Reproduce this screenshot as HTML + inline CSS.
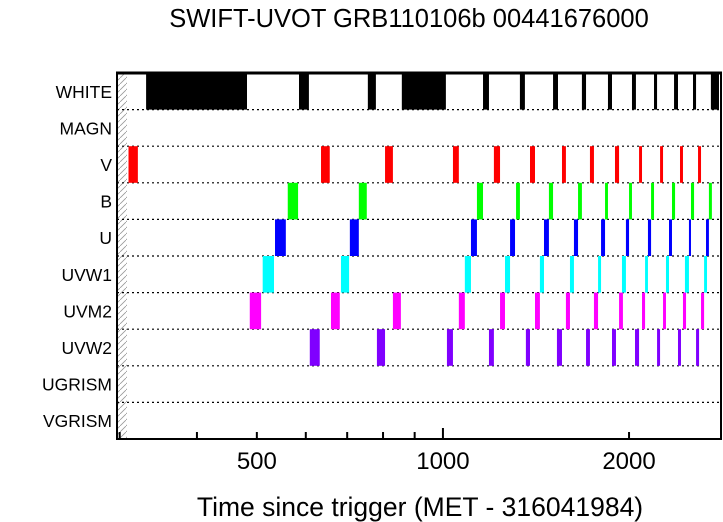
<!DOCTYPE html>
<html><head><meta charset="utf-8"><style>
html,body{margin:0;padding:0;background:#fff;width:723px;height:522px;overflow:hidden}
text{font-family:"Liberation Sans",sans-serif;fill:#000}
</style></head><body>
<svg id="chart" width="723" height="522" xmlns="http://www.w3.org/2000/svg">
<defs><pattern id="hatch" patternUnits="userSpaceOnUse" width="6" height="6"><path d="M0,6 L6,0" stroke="#999" stroke-width="0.8"/></pattern></defs>
<text x="409" y="27" font-size="25.5" text-anchor="middle">SWIFT-UVOT GRB110106b 00441676000</text>
<text x="420" y="516" font-size="26.5" text-anchor="middle">Time since trigger (MET - 316041984)</text>
<rect x="117" y="73" width="10" height="366" fill="url(#hatch)"/>
<g id="grid"></g><g id="bars"></g><g id="axes"></g>
</svg>
<script>
const filters=["WHITE","MAGN","V","B","U","UVW1","UVM2","UVW2","UGRISM","VGRISM"];
const colors=["#000","#000","#ff0000","#00ff00","#0000ff","#00ffff","#ff00ff","#8000ff","#000","#000"];
const whiteExp=[[331,482],[585,607],[756,779],[858,1011],[1161,1187],[1332,1357],[1507,1535],[1678,1704],[1849,1877],[2022,2052],[2195,2220],[2365,2400],[2538,2567],[2713,2796]];
const vExp=[[310,321],[635,656],[806,830],[1038,1061],[1209,1237],[1383,1409],[1558,1581],[1729,1755],[1898,1927],[2076,2099],[2245,2270],[2418,2445],[2586,2615]];
const bExp=[[561,583],[731,753],[1135,1161],[1313,1332],[1484,1507],[1654,1678],[1829,1849],[2000,2022],[2171,2195],[2347,2374],[2519,2548],[2693,2723]];
const uExp=[[535,557],[707,731],[1110,1135],[1284,1308],[1457,1484],[1629,1654],[1802,1829],[1977,2000],[2146,2171],[2321,2347],[2500,2519],[2664,2693]];
const uvw1Exp=[[511,533],[684,705],[1085,1110],[1260,1284],[1435,1457],[1605,1629],[1782,1802],[1948,1977],[2123,2146],[2295,2321],[2463,2500],[2645,2674]];
const uvm2Exp=[[487,508],[659,681],[830,855],[1061,1085],[1237,1260],[1409,1435],[1581,1605],[1755,1782],[1927,1955],[2099,2123],[2270,2295],[2445,2473],[2615,2645]];
const uvw2Exp=[[609,632],[782,806],[1015,1038],[1187,1209],[1362,1383],[1529,1558],[1704,1729],[1877,1905],[2045,2076],[2220,2245],[2400,2427],[2567,2596]];
const tickValues=[300,400,500,600,700,800,900,1000,2000];
const tickLabels=["500","1000","2000"];
const series=[whiteExp,[],vExp,bExp,uExp,uvw1Exp,uvm2Exp,uvw2Exp,[],[]];
const X0=117,X1=721,Y0=73,Y1=439,D0=297,D1=2817;
const NS="http://www.w3.org/2000/svg";
function xs(v){return X0+(Math.log(v)-Math.log(D0))/(Math.log(D1)-Math.log(D0))*(X1-X0);}
const rowH=(Y1-Y0)/filters.length;
function ys(i){return Y0+i*rowH;}
function mk(tag,attrs,parent){const e=document.createElementNS(NS,tag);for(const k in attrs)e.setAttribute(k,attrs[k]);parent.appendChild(e);return e;}
const grid=document.getElementById('grid'),bars=document.getElementById('bars'),axes=document.getElementById('axes');
filters.forEach((f,i)=>{
  if(i>0){const l=mk('line',{x1:X0,x2:X1,y1:ys(i),y2:ys(i),stroke:'#000','stroke-width':1.2,'stroke-dasharray':'2,3'},grid);
    
    }
  const t=mk('text',{x:112,y:ys(i)+rowH/2+6.5,'font-size':17.5,'text-anchor':'end'},axes);
  t.textContent=f;
  
  
  series[i].forEach(s=>{
    const a=xs(s[0]),b=xs(s[1]);
    const r=mk('rect',{x:a,y:ys(i),width:Math.max(b-a,1),height:rowH,fill:colors[i]},bars);
    
    
  });
});
const frame=mk('rect',{x:X0,y:Y0,width:X1-X0,height:Y1-Y0,fill:'none',stroke:'#000','stroke-width':2},axes);


mk('line',{x1:X0-1,x2:X1+1,y1:Y0,y2:Y0,stroke:'#000','stroke-width':3},axes);
tickValues.forEach(v=>{
  const x=xs(v);const major=(v===1000);
  const tk=mk('line',{x1:x,x2:x,y1:Y1,y2:Y1-(major?11:7),stroke:'#000','stroke-width':2},axes);
  
  
});
tickLabels.forEach(s=>{
  const t=mk('text',{x:xs(+s),y:469,'font-size':24,'text-anchor':'middle'},axes);
  t.textContent=s;
  
  
});
</script>
</body></html>
